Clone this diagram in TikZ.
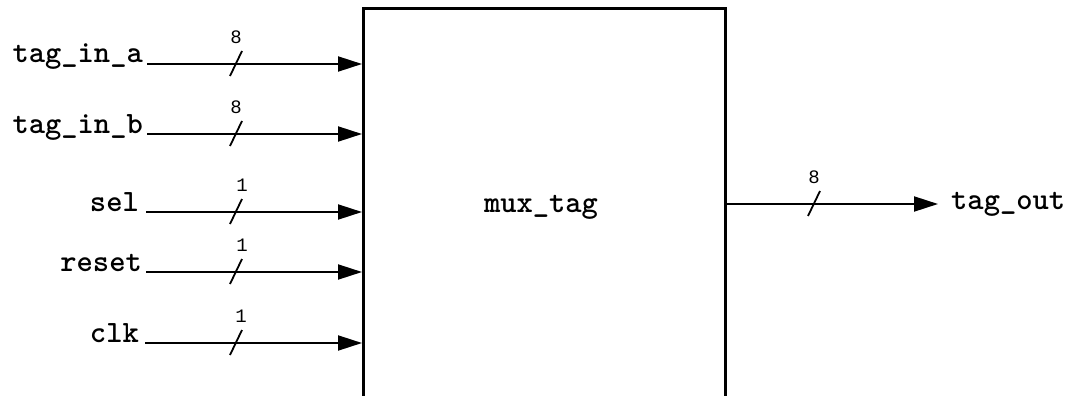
\documentclass[tikz,border=0pt]{standalone}
\usepackage{fontspec}
\newfontfamily\numfont{Liberation Mono}
\usetikzlibrary{arrows.meta}
\tikzset{
  x=1pt, y=-1pt,
  sig/.style={line width=2pt, -{Triangle[length=24pt,width=15pt]}},
  slash/.style={line width=1.8pt},
  port/.style={inner sep=0pt, font=\fontsize{31}{34}\selectfont\ttfamily\bfseries},
  width/.style={inner sep=0pt, font=\fontsize{19}{21}\selectfont\numfont},
  blk/.style={draw, line width=2.6pt, inner sep=0pt, anchor=north west, minimum width=362pt, minimum height=500pt}
}
\begin{document}
\begin{tikzpicture}
\clip (0,0) rectangle (1068,396);
\fill[white] (0,0) rectangle (1068,396);
\node[blk] (box) at (362,7) {};
\node[port] (mt) at (541,207) {mux\_tag};
% inputs
\node[port, anchor=base east] (a) at (143,63) {tag\_in\_a};
\node[port, anchor=base east] (b) at (143,133) {tag\_in\_b};
\node[port, anchor=base east] (s) at (139,211) {sel};
\node[port, anchor=base east] (r) at (142,271) {reset};
\node[port, anchor=base east] (c) at (139,342) {clk};
\coordinate (a1) at (147,64);
\coordinate (b1) at (147,134);
\coordinate (s1) at (146,212);
\coordinate (r1) at (146,272);
\coordinate (c1) at (145,343);
\draw[sig] (a1) -- (a1 -| box.west);
\draw[sig] (b1) -- (b1 -| box.west);
\draw[sig] (s1) -- (s1 -| box.west);
\draw[sig] (r1) -- (r1 -| box.west);
\draw[sig] (c1) -- (c1 -| box.west);
\foreach \y/\w in {64/8,134/8,212/1,272/1,343/1}{
  \draw[slash] (230,\y+12) -- (242,\y-13);
}
\node[width] (wa) at (236,37) {8};
\node[width] (wb) at (236,107) {8};
\node[width] (ws) at (242,185) {1};
\node[width] (wr) at (242,245) {1};
\node[width] (wc) at (241,316) {1};
% output
\node[port, anchor=base west] (o) at (951,209) {tag\_out};
\coordinate (o0) at (724,204);
\coordinate (o1) at (938,204);
\draw[sig] (o0 -| box.east) -- (o1);
\draw[slash] (808,216) -- (820,191);
\node[width] (wo) at (814,177) {8};
\end{tikzpicture}
\end{document}
